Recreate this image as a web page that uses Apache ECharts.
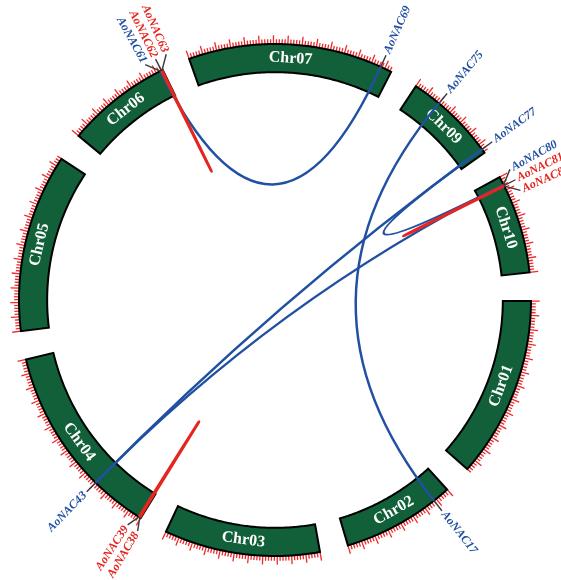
<!DOCTYPE html>
<html>
<head>
<meta charset="utf-8">
<script src="https://cdn.jsdelivr.net/npm/echarts@6/dist/echarts.min.js"></script>
<style>
  html, body { margin: 0; padding: 0; background: #ffffff; }
  #chart { width: 561px; height: 580px; }
</style>
</head>
<body>
<div id="chart"></div>
<script>
// Chromosomes in drawing order (clockwise from the top), lengths in Mb
const chromNames = ['Chr07', 'Chr09', 'Chr10', 'Chr01', 'Chr02', 'Chr03', 'Chr04', 'Chr05', 'Chr06'];
const chromLengths = [145, 67, 70, 128, 80, 110, 140, 126, 75];

// NAC genes: name, chromosome and position on it (Mb)
const geneNames = ['AoNAC69', 'AoNAC75', 'AoNAC77', 'AoNAC80', 'AoNAC81', 'AoNAC82', 'AoNAC17',
                   'AoNAC38', 'AoNAC39', 'AoNAC43', 'AoNAC61', 'AoNAC62', 'AoNAC63'];
const geneChroms = ['Chr07', 'Chr09', 'Chr09', 'Chr10', 'Chr10', 'Chr10', 'Chr02',
                    'Chr04', 'Chr04', 'Chr04', 'Chr06', 'Chr06', 'Chr06'];
const genePositions = [137, 20, 64, 6.0, 6.6, 7.0, 12, 0.8, 1.5, 40, 73.2, 74.0, 74.5];

// Duplicated gene pairs
const segmentalPairs = [['AoNAC61', 'AoNAC69'], ['AoNAC75', 'AoNAC17'], ['AoNAC77', 'AoNAC43'],
                        ['AoNAC80', 'AoNAC43'], ['AoNAC77', 'AoNAC80']];
const tandemPairs = [['AoNAC62', 'AoNAC63'], ['AoNAC81', 'AoNAC82'], ['AoNAC38', 'AoNAC39']];

// ---- layout / style ----
const GAP = 20;                 // spacing between chromosomes, in Mb
const R_OUT = 1, R_IN = 0.89, R_MID = 0.945;
const MINOR_STEP = 2, MAJOR_STEP = 10;
const MINOR_LEN = 0.019, MAJOR_LEN = 0.034;
const LEADER_R = 1.05, LABEL_R = 1.06;
const TANDEM_CTRL = 0.12;       // control-point radius for tandem links
const GREEN = '#11603a';
const BLUE = '#2150a2';
const RED = '#e5251f';
const TICK_RED = '#f02828';

const offsets = [];
let acc = 0;
chromLengths.forEach((len) => { offsets.push(acc); acc += len + GAP; });
const TOTAL = acc;

const genomePos = geneNames.map((g, i) => offsets[chromNames.indexOf(geneChroms[i])] + genePositions[i]);
const tandemGenes = new Set(tandemPairs.flat());

// spread labels of neighbouring genes apart
const LABEL_SEP = 2.5 * TOTAL / 360;
const labelPos = genomePos.slice();
(function spreadLabels() {
  const order = genomePos.map((p, i) => i).sort((a, b) => genomePos[a] - genomePos[b]);
  let cluster = [order[0]];
  const flush = () => {
    const mean = cluster.reduce((s, k) => s + genomePos[k], 0) / cluster.length;
    cluster.forEach((k, j) => { labelPos[k] = mean + (j - (cluster.length - 1) / 2) * LABEL_SEP; });
  };
  for (let n = 1; n < order.length; n++) {
    const prev = cluster[cluster.length - 1];
    if (genomePos[order[n]] - genomePos[prev] < LABEL_SEP) cluster.push(order[n]);
    else { flush(); cluster = [order[n]]; }
  }
  flush();
})();

function screenAngle(api, pos) {
  const p = api.coord([1, pos]), c = api.coord([0, pos]);
  let th = Math.atan2(p[0] - c[0], c[1] - p[1]);
  if (th < 0) th += 2 * Math.PI;
  return th; // clockwise from 12 o'clock
}

const chart = echarts.init(document.getElementById('chart'), null, { renderer: 'canvas' });

const option = {
  backgroundColor: '#ffffff',
  animation: false,
  polar: { center: [275, 300], radius: 256 },
  angleAxis: { type: 'value', min: 0, max: TOTAL, startAngle: 109.6, clockwise: true, show: false },
  radiusAxis: { type: 'value', min: 0, max: 1, show: false },
  series: [
    // chromosome bands with names
    {
      type: 'custom', coordinateSystem: 'polar', silent: true, z: 2,
      data: chromNames.map((n, i) => [R_OUT, offsets[i], i]),
      renderItem(params, api) {
        const i = api.value(2);
        const s = offsets[i], e = s + chromLengths[i];
        const N = 80, pts = [];
        for (let k = 0; k <= N; k++) pts.push(api.coord([R_OUT, s + (e - s) * k / N]));
        for (let k = N; k >= 0; k--) pts.push(api.coord([R_IN, s + (e - s) * k / N]));
        const mid = (s + e) / 2;
        const p = api.coord([R_MID, mid]);
        const th = screenAngle(api, mid);
        let rot = -th;
        if (th > Math.PI / 2 && th < 3 * Math.PI / 2) rot += Math.PI;
        return {
          type: 'group',
          children: [
            { type: 'polygon', shape: { points: pts },
              style: { fill: GREEN, stroke: '#000', lineWidth: 2, lineJoin: 'miter' } },
            { type: 'text', x: p[0], y: p[1], rotation: rot,
              style: { text: chromNames[i], fill: '#ffffff', font: 'bold 16px "Liberation Serif"',
                       align: 'center', verticalAlign: 'middle' } }
          ]
        };
      }
    },
    // scale ticks
    {
      type: 'custom', coordinateSystem: 'polar', silent: true, z: 1,
      data: chromNames.map((n, i) => [R_OUT, offsets[i], i]),
      renderItem(params, api) {
        const i = api.value(2);
        const s = offsets[i], children = [];
        const n = Math.floor(chromLengths[i] / MINOR_STEP);
        for (let k = 0; k <= n; k++) {
          const m = k * MINOR_STEP;
          const len = (m % MAJOR_STEP === 0) ? MAJOR_LEN : MINOR_LEN;
          const a = api.coord([R_OUT, s + m]), b = api.coord([R_OUT + len, s + m]);
          children.push({ type: 'line', shape: { x1: a[0], y1: a[1], x2: b[0], y2: b[1] },
                          style: { stroke: TICK_RED, lineWidth: 1.3 } });
        }
        return { type: 'group', children };
      }
    },
    // duplication links
    {
      type: 'custom', coordinateSystem: 'polar', silent: true, z: 3,
      data: segmentalPairs.map((p, i) => [R_OUT, 0, 0, i]).concat(tandemPairs.map((p, i) => [R_OUT, 0, 1, i])),
      renderItem(params, api) {
        const tandem = api.value(2) === 1;
        const pair = (tandem ? tandemPairs : segmentalPairs)[api.value(3)];
        const pa = genomePos[geneNames.indexOf(pair[0])];
        const pb = genomePos[geneNames.indexOf(pair[1])];
        const a = api.coord([R_OUT, pa]), b = api.coord([R_OUT, pb]);
        const c = api.coord([tandem ? TANDEM_CTRL : 0, (pa + pb) / 2]);
        return {
          type: 'bezierCurve',
          shape: { x1: a[0], y1: a[1], x2: b[0], y2: b[1], cpx1: c[0], cpy1: c[1] },
          style: { stroke: tandem ? RED : BLUE, lineWidth: tandem ? 2.8 : 2.4, fill: null }
        };
      }
    },
    // gene labels with leader lines
    {
      type: 'custom', coordinateSystem: 'polar', silent: true, z: 4,
      data: geneNames.map((g, i) => [R_OUT, genomePos[i], i]),
      renderItem(params, api) {
        const i = api.value(2);
        const a = api.coord([R_OUT, genomePos[i]]);
        const b = api.coord([LEADER_R, labelPos[i]]);
        const t = api.coord([LABEL_R, labelPos[i]]);
        const th = screenAngle(api, labelPos[i]);
        const right = th < Math.PI;
        const rot = right ? Math.PI / 2 - th : 3 * Math.PI / 2 - th;
        const color = tandemGenes.has(geneNames[i]) ? RED : BLUE;
        return {
          type: 'group',
          children: [
            { type: 'line', shape: { x1: a[0], y1: a[1], x2: b[0], y2: b[1] },
              style: { stroke: '#3a3a3a', lineWidth: 1.4 } },
            { type: 'text', x: t[0], y: t[1], rotation: rot,
              style: { text: geneNames[i], fill: color, font: 'italic bold 12px "Liberation Serif"',
                       align: right ? 'left' : 'right', verticalAlign: 'middle' } }
          ]
        };
      }
    }
  ]
};

chart.setOption(option);
</script>
</body>
</html>
